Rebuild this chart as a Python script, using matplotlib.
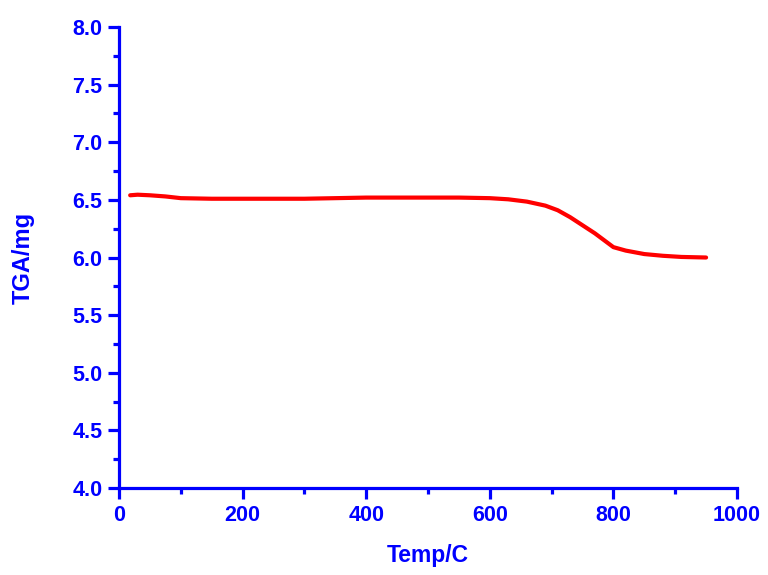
import matplotlib
matplotlib.use("Agg")
import matplotlib.pyplot as plt
from matplotlib.ticker import MultipleLocator

temp = [18, 30, 50, 75, 100, 150, 200, 250, 300, 350, 400, 450, 500, 550, 600, 630, 660, 690, 710, 730, 750, 770, 790, 800, 820, 850, 880, 910, 950]
tga = [6.54, 6.545, 6.54, 6.53, 6.515, 6.51, 6.51, 6.51, 6.51, 6.515, 6.52, 6.52, 6.52, 6.52, 6.515, 6.505, 6.485, 6.45, 6.41, 6.35, 6.28, 6.21, 6.13, 6.09, 6.06, 6.03, 6.015, 6.005, 6.0]

blue = "#0000ff"
plt.rcParams['font.family'] = ['Liberation Sans', 'DejaVu Sans']

fig = plt.figure(figsize=(7.68, 5.75), dpi=100)
ax = fig.add_axes([0.155, 0.1513, 0.8046, 0.8017])
ax.plot(temp, tga, color="#ff0000", lw=3, solid_capstyle='round')
ax.set_xlim(0, 1000)
ax.set_ylim(4.0, 8.0)
ax.xaxis.set_major_locator(MultipleLocator(200))
ax.xaxis.set_minor_locator(MultipleLocator(100))
ax.yaxis.set_major_locator(MultipleLocator(0.5))
ax.yaxis.set_minor_locator(MultipleLocator(0.25))
ax.yaxis.set_major_formatter(matplotlib.ticker.FormatStrFormatter('%.1f'))
for s in ['top', 'right']:
    ax.spines[s].set_visible(False)
for s in ['left', 'bottom']:
    ax.spines[s].set_color(blue)
    ax.spines[s].set_linewidth(2.3)
ax.tick_params(which='major', direction='out', length=8, width=2.3, color=blue, labelcolor=blue, labelsize=15.5, pad=4)
ax.tick_params(which='minor', direction='out', length=4, width=2.3, color=blue)
for lab in ax.get_xticklabels() + ax.get_yticklabels():
    lab.set_fontweight('bold')
ax.set_xlabel("Temp/C", color=blue, fontsize=16.5, fontweight='bold', labelpad=13)
ax.set_ylabel("TGA/mg", color=blue, fontsize=17, fontweight='bold', labelpad=27)
fig.savefig("out.png", dpi=100)
